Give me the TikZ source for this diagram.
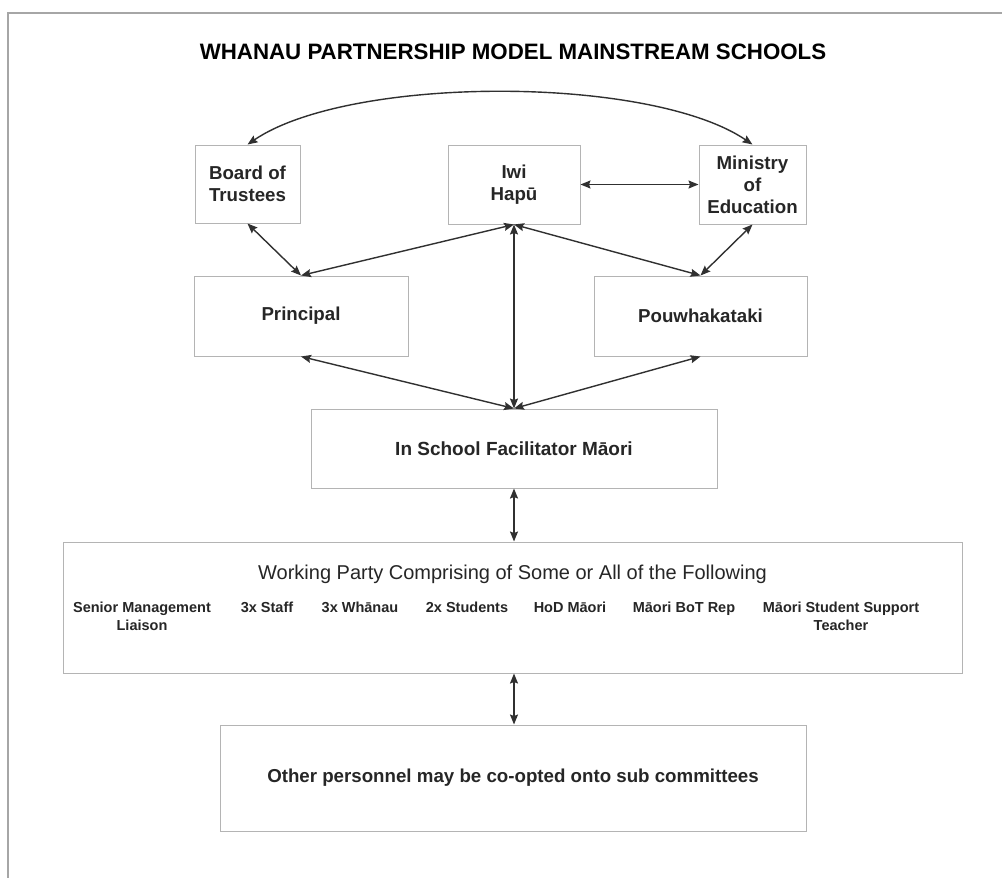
\documentclass[tikz,border=0pt]{standalone}
\usepackage{fontspec}
\setmainfont{Liberation Sans}
\usetikzlibrary{arrows.meta}
\definecolor{boxline}{HTML}{B4B4B4}
\definecolor{conncol}{HTML}{303030}
\definecolor{txt}{HTML}{262626}
\tikzset{
  box/.style={draw=boxline, line width=1pt, inner sep=0pt, align=center, text=txt,
    font=\fontsize{18.7}{22}\selectfont\bfseries},
  tip/.style={Stealth[length=10pt,width=8pt,inset=1.5pt]},
  conn/.style={draw=conncol, line width=1.4pt, {Stealth[length=10pt,width=8pt,inset=1.5pt]}-{Stealth[length=10pt,width=8pt,inset=1.5pt]}},
  item/.style={align=center, text=txt, inner sep=0pt, font=\fontsize{14.5}{17.4}\selectfont\bfseries},
  frameline/.style={draw=gray!70, line width=1.4pt}
}
\begin{document}
\begin{tikzpicture}[x=1pt,y=-1pt]
\useasboundingbox (0,0) rectangle (1002,878);
\fill[white] (0,0) rectangle (1002,878);
% outer frame (top and left edges)
\coordinate (ftr) at (1002,13);
\coordinate (ftl) at (8,13);
\coordinate (fbl) at (8,878);
\draw[frameline] (ftr) -- (ftl) -- (fbl);

\node[text=black, inner sep=0pt, font=\fontsize{22.3}{26}\selectfont\bfseries] (title) at (513,52) {WHANAU PARTNERSHIP MODEL MAINSTREAM SCHOOLS};

\node[box, minimum width=105pt, minimum height=78pt] (board) at (247.5,184) {Board of\\Trustees};
\node[box, minimum width=132pt, minimum height=79pt] (iwi) at (514,184.5) {Iwi\\Hapū};
\node[box, minimum width=107pt, minimum height=79pt] (ministry) at (752.5,184.5) {Ministry\\of\\Education};
\node[box, minimum width=214pt, minimum height=80pt] (principal) at (301,316) {\raisebox{-3pt}{Principal}};
\node[box, minimum width=213pt, minimum height=80pt] (pouw) at (700.5,316) {\raisebox{-1pt}{Pouwhakataki}};
\node[box, minimum width=406pt, minimum height=79pt, font=\fontsize{19}{22}\selectfont\bfseries] (isf) at (514,448.5) {\raisebox{-2pt}{In School Facilitator Māori}};
\node[box, minimum width=899pt, minimum height=131pt] (wp) at (512.5,607.5) {};
\node[box, minimum width=586pt, minimum height=106pt] (other) at (513,778) {Other personnel may be co-opted onto sub committees};

% working party contents
\node[text=txt, inner sep=0pt, font=\fontsize{20}{24}\selectfont] (wphead) at (512.5,574) {Working Party Comprising of Some or All of the Following};
\node[item, anchor=north] (i1) at (142,602) {Senior Management\\Liaison};
\node[item, anchor=north] (i2) at (267,602) {3x Staff};
\node[item, anchor=north] (i3) at (360,602) {3x Whānau};
\node[item, anchor=north] (i4) at (467,602) {2x Students};
\node[item, anchor=north] (i5) at (570,602) {HoD Māori};
\node[item, anchor=north] (i6) at (684,602) {Māori BoT Rep};
\node[item, anchor=north] (i7) at (841,602) {Māori Student Support\\Teacher};

% connectors
\draw[conn] (board.north) .. controls (350,75) and (650,75) .. (ministry.north);
\draw[conn] (iwi.east) -- (ministry.west);
\draw[conn] (board.south) -- (principal.north);
\draw[conn] (iwi.south) -- (principal.north);
\draw[conn] (iwi.south) -- (pouw.north);
\draw[conn] (ministry.south) -- (pouw.north);
\draw[conn] (iwi.south) -- (isf.north);
\draw[conn] (principal.south) -- (isf.north);
\draw[conn] (pouw.south) -- (isf.north);
\draw[conn] (isf.south) -- (isf.south |- wp.north);
\draw[conn] (isf.south |- wp.south) -- (isf.south |- other.north);
\end{tikzpicture}
\end{document}
